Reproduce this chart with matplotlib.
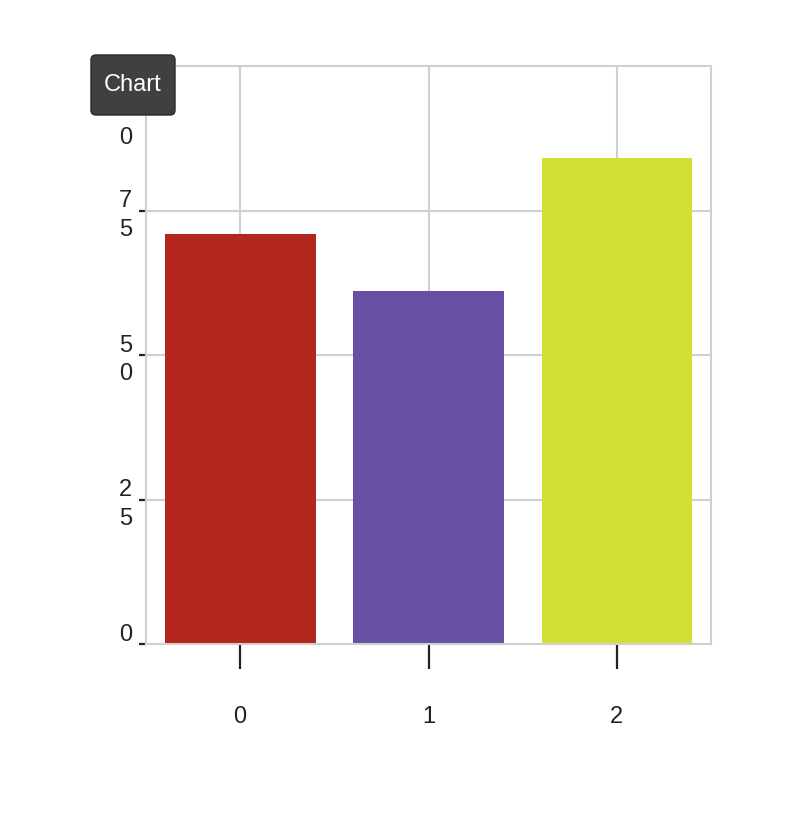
import matplotlib
matplotlib.use("Agg")
import matplotlib.pyplot as plt
import matplotlib.transforms as mtransforms
from matplotlib.patches import FancyBboxPatch

# datos
categorias = [0, 1, 2]
valores = [71, 61, 84]
colores = ["#b2261e", "#6750a4", "#d4df33"]
y_ticks = [0, 25, 50, 75, 100]
y_etiquetas = ["0", "2\n5", "5\n0", "7\n5", "1\n0\n0"]

plt.rcParams["font.family"] = ["Liberation Sans", "DejaVu Sans"]
gris = "#d0d0d0"

fig = plt.figure(figsize=(8, 8.2), dpi=100)
ax = fig.add_axes([146 / 800, 1 - 645 / 820, (711 - 146) / 800, (645 - 67) / 820])

ax.bar(categorias, valores, width=0.8, color=colores, zorder=2)

ax.set_xlim(-0.5, 2.5)
ax.set_ylim(0, 100)
ax.set_xticks(categorias)
ax.set_xticklabels([str(c) for c in categorias], fontsize=17)
ax.set_yticks(y_ticks)
ax.set_yticklabels(y_etiquetas, fontsize=17, linespacing=1.4)

ax.grid(True, color=gris, linewidth=1.5, zorder=0)
for s in ax.spines.values():
    s.set_color(gris)
    s.set_linewidth(1.5)

ax.tick_params(axis="x", length=18, width=1.6, color="#222222", pad=26)
ax.tick_params(axis="y", length=5, width=1.6, color="#222222", pad=5)

# desplazamiento vertical de las etiquetas del eje y (px)
desplaz = [10, -4, -4, -4, -42]
for lbl, dy in zip(ax.get_yticklabels(), desplaz):
    lbl.set_verticalalignment("center")
    lbl.set_horizontalalignment("right")
    lbl.set_transform(lbl.get_transform() + mtransforms.ScaledTranslation(0, dy / 100, fig.dpi_scale_trans))
    lbl.set_color("#222222")
for lbl in ax.get_xticklabels():
    lbl.set_color("#222222")

# caja "Chart"
caja = FancyBboxPatch((91 / 800, 1 - 116 / 820), 84 / 800, 60 / 820,
                      boxstyle="round,pad=0,rounding_size=0.006",
                      transform=fig.transFigure, facecolor="#404040",
                      edgecolor="#2a2a2a", linewidth=1, zorder=10)
fig.patches.append(caja)
fig.text(133 / 800, 1 - 85 / 820, "Chart", color="white", fontsize=17,
         ha="center", va="center", zorder=11)

fig.savefig("out.png", dpi=100)
